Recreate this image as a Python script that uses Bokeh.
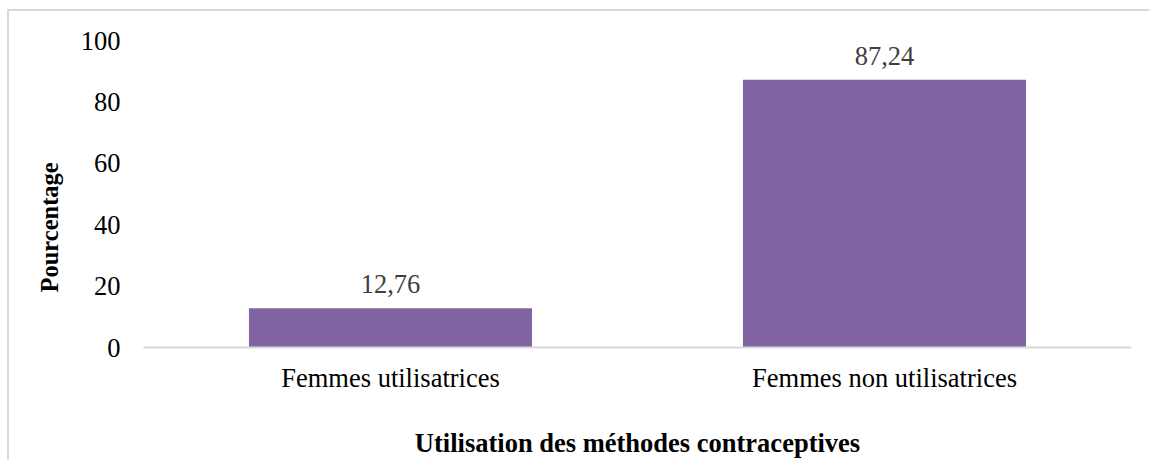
from bokeh.plotting import figure
from bokeh.models import Range1d, FactorRange, ColumnDataSource, FixedTicker, LabelSet, Title
from bokeh.embed import file_html
from bokeh.resources import INLINE

categories = ["Femmes utilisatrices", "Femmes non utilisatrices"]
values = [12.76, 87.24]
labels = ["12,76", "87,24"]
y_ticks = [0, 20, 40, 60, 80, 100]

FONT = "Liberation Serif"
FS = "26.5px"

src = ColumnDataSource(dict(cat=categories, val=values, lab=labels))

p = figure(
    x_range=FactorRange(*categories),
    y_range=Range1d(0, 100),
    width=1149, height=460,
    output_backend="svg", toolbar_location=None,
    min_border_left=143, min_border_right=18, min_border_top=40, min_border_bottom=113,
)
p.styles = {
    "background": "linear-gradient(#d9d9d9, #d9d9d9) 7px 9px / 2px 100% no-repeat, "
                  "linear-gradient(#d9d9d9, #d9d9d9) 7px 9px / 100% 2px no-repeat, white"
}
p.outline_line_color = None
p.background_fill_color = "white"
p.border_fill_color = None

p.vbar(x="cat", top="val", width=0.573, source=src, fill_color="#8064A2", line_color=None)

p.add_layout(LabelSet(x="cat", y="val", text="lab", source=src, text_align="center",
                      text_baseline="alphabetic", y_offset=15, text_color="#404040",
                      text_font=FONT, text_font_size=FS))

p.xgrid.visible = False
p.ygrid.visible = False

ya = p.yaxis[0]
ya.ticker = FixedTicker(ticks=y_ticks)
ya.axis_line_color = None
ya.major_tick_line_color = None
ya.minor_tick_line_color = None
ya.major_label_standoff = 17
ya.major_label_text_font = FONT
ya.major_label_text_font_size = FS
ya.major_label_text_color = "black"

p.add_layout(Title(text="Pourcentage", align="left", offset=55, standoff=30,
                   text_font=FONT, text_font_size="24.5px", text_font_style="bold",
                   text_color="black"), "left")

xa = p.xaxis[0]
xa.axis_line_color = "#d9d9d9"
xa.axis_line_width = 2
xa.major_tick_line_color = None
xa.minor_tick_line_color = None
xa.major_label_standoff = 9
xa.major_label_text_font = FONT
xa.major_label_text_font_size = FS
xa.major_label_text_color = "black"
xa.axis_label = "Utilisation des méthodes contraceptives"
xa.axis_label_text_font = FONT
xa.axis_label_text_font_size = FS
xa.axis_label_text_font_style = "bold"
xa.axis_label_text_color = "black"
xa.axis_label_standoff = 32

open("out.html", "w").write(file_html(p, INLINE))
